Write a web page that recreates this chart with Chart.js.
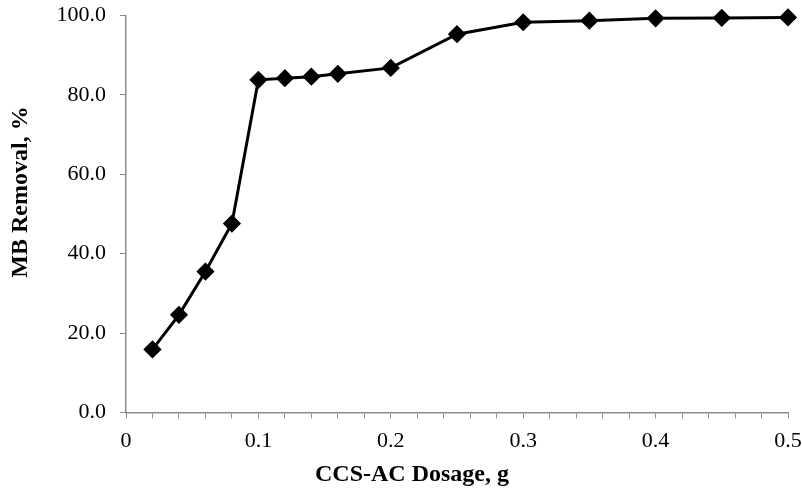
<!DOCTYPE html>
<html>
<head>
<meta charset="utf-8">
<script src="https://cdn.jsdelivr.net/npm/chart.js@4/dist/chart.umd.min.js"></script>
<style>
  html, body { margin: 0; padding: 0; background: #fff; }
  #wrap { width: 802px; height: 495px; }
</style>
</head>
<body>
<div id="wrap"><canvas id="removal-chart"></canvas></div>
<script>
// MB removal vs. CCS-AC dosage
const dosage = [0.02, 0.04, 0.06, 0.08, 0.10, 0.12, 0.14, 0.16, 0.20, 0.25, 0.30, 0.35, 0.40, 0.45, 0.50];
const removal = [15.9, 24.6, 35.5, 47.6, 83.8, 84.2, 84.6, 85.3, 86.8, 95.3, 98.3, 98.7, 99.3, 99.4, 99.5];

const xMin = 0, xMax = 0.5, xStep = 0.02;
const yMin = 0, yMax = 100, yStep = 20;

const xTitle = "CCS-AC Dosage, g";
const yTitle = "MB Removal, %";

const axisGray = "#8c8c8c";
const serif = "'Liberation Serif', 'Times New Roman', serif";

// axis titles sit a little off the plot centre, so draw them by hand
const axisTitles = {
  id: "axisTitles",
  afterDraw(chart) {
    const c = chart.ctx;
    c.save();
    c.fillStyle = "#000";
    c.font = "bold 24px " + serif;
    c.textAlign = "center";
    c.textBaseline = "middle";
    c.fillText(xTitle, 412, 475);
    c.translate(21, 192);
    c.rotate(-Math.PI / 2);
    c.fillText(yTitle, 0, 0);
    c.restore();
  }
};

const ctx = document.getElementById("removal-chart").getContext("2d");
const removalChart = new Chart(ctx, {
  type: "scatter",
  data: {
    datasets: [{
      data: dosage.map((x, i) => ({ x: x, y: removal[i] })),
      showLine: true,
      clip: false,
      borderColor: "#000",
      borderWidth: 3,
      backgroundColor: "#000",
      pointStyle: "rectRot",
      pointRadius: 7,
      pointHoverRadius: 7,
      tension: 0,
    }]
  },
  plugins: [axisTitles],
  options: {
    responsive: true,
    maintainAspectRatio: false,
    animation: false,
    layout: { padding: { left: 0, right: 14, top: 15.5, bottom: 0 } },
    plugins: { legend: { display: false }, tooltip: { enabled: false } },
    scales: {
      x: {
        type: "linear",
        min: xMin,
        max: xMax,
        afterFit: (scale) => {
          scale.height = 82.5;
          scale.paddingLeft = 0;
          scale.paddingRight = 0;
        },
        afterBuildTicks: (scale) => {
          const ticks = [];
          for (let i = 0; i <= Math.round((xMax - xMin) / xStep); i++) {
            ticks.push({ value: +(xMin + i * xStep).toFixed(2) });
          }
          scale.ticks = ticks;
        },
        ticks: {
          autoSkip: false,
          maxRotation: 0,
          padding: 10,
          color: "#000",
          font: { family: serif, size: 22 },
          callback: (v) => {
            const r = Math.round(v * 100);
            if (r % 10 !== 0) return "";
            return r === 0 ? "0" : String(r / 100);
          }
        },
        grid: { drawOnChartArea: false, tickLength: 6, color: axisGray, tickColor: axisGray },
        border: { color: axisGray, width: 1.5 }
      },
      y: {
        min: yMin,
        max: yMax,
        afterFit: (scale) => {
          scale.width = 126;
          scale.paddingTop = 0;
          scale.paddingBottom = 0;
        },
        ticks: {
          stepSize: yStep,
          padding: 14,
          color: "#000",
          font: { family: serif, size: 22 },
          callback: (v) => v.toFixed(1)
        },
        grid: { drawOnChartArea: false, tickLength: 6, color: axisGray, tickColor: axisGray },
        border: { color: axisGray, width: 1.5 }
      }
    }
  }
});
</script>
</body>
</html>
